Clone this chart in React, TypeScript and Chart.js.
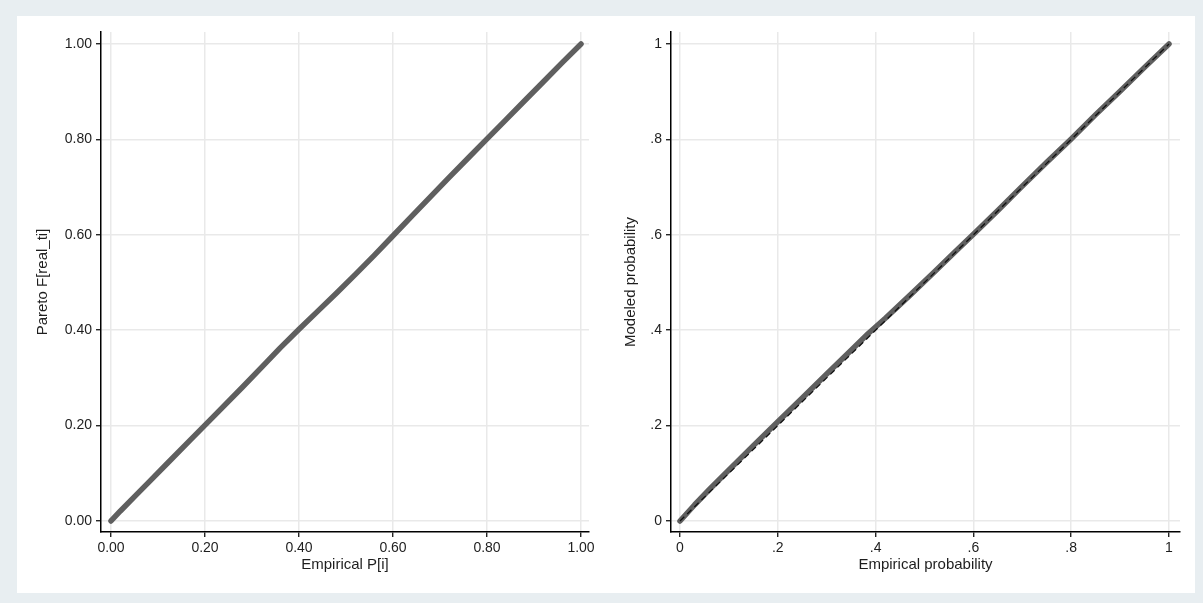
import React, { useEffect, useRef } from "react";
import { Chart, registerables } from "chart.js";

Chart.register(...registerables);

// ---- data ----
const leftEmpirical = [0, 0.02, 0.05, 0.08, 0.12, 0.17, 0.22, 0.28, 0.33, 0.36, 0.4, 0.44, 0.48, 0.52, 0.56, 0.6, 0.64, 0.68, 0.72, 0.76, 0.8, 0.84, 0.88, 0.92, 0.96, 1.0];
const leftPareto = [0, 0.021, 0.051, 0.081, 0.121, 0.171, 0.221, 0.281, 0.332, 0.363, 0.402, 0.44, 0.478, 0.517, 0.557, 0.598, 0.639, 0.68, 0.721, 0.761, 0.801, 0.841, 0.881, 0.921, 0.961, 1.0];

const rightEmpirical = [0, 0.03, 0.06, 0.1, 0.15, 0.2, 0.25, 0.3, 0.35, 0.385, 0.42, 0.47, 0.52, 0.56, 0.6, 0.65, 0.7, 0.75, 0.8, 0.85, 0.9, 0.95, 1.0];
const rightModeled = [0, 0.034, 0.066, 0.107, 0.158, 0.208, 0.258, 0.308, 0.358, 0.393, 0.425, 0.473, 0.522, 0.562, 0.601, 0.651, 0.702, 0.752, 0.801, 0.852, 0.901, 0.951, 1.0];
const refLine = [0, 1];

const tickValues = [0, 0.2, 0.4, 0.6, 0.8, 1.0];
const leftTickLabels = ["0.00", "0.20", "0.40", "0.60", "0.80", "1.00"];
const rightTickLabels = ["0", ".2", ".4", ".6", ".8", "1"];

const FONT = "'Liberation Sans', Arial, sans-serif";
const TEXT = "#1e1e1e";
const GRID = "#e9e9e9";

function axis(
  kind: "x" | "y",
  min: number,
  max: number,
  labels: string[],
  title: string,
  size: number,
  titlePad: any
) {
  return {
    type: "linear",
    min,
    max,
    afterBuildTicks: (s: any) => {
      s.ticks = tickValues.map((v) => ({ value: v }));
    },
    afterFit: (s: any) => {
      if (kind === "y") s.width = size;
      else s.height = size;
    },
    ticks: {
      color: TEXT,
      font: { family: FONT, size: 14 },
      padding: kind === "y" ? 4 : 3,
      maxRotation: 0,
      autoSkip: false,
      callback: (v: any) => {
        const i = tickValues.findIndex((t) => Math.abs(t - v) < 1e-9);
        return i >= 0 ? labels[i] : "";
      },
    },
    grid: {
      color: GRID,
      lineWidth: 1.5,
      tickColor: "#000",
      tickLength: 5,
      tickWidth: 1.2,
      drawTicks: true,
    },
    border: { display: true, color: "#000", width: 1.5 },
    title: {
      display: true,
      text: title,
      color: TEXT,
      font: { family: FONT, size: 15 },
      padding: titlePad,
    },
  };
}

function makePoints(xs: number[], ys: number[]) {
  return xs.map((x, i) => ({ x, y: ys[i] }));
}

function Panel(props: { which: "left" | "right" }) {
  const ref = useRef<HTMLCanvasElement | null>(null);
  useEffect(() => {
    if (!ref.current) return;
    const isLeft = props.which === "left";
    const datasets: any[] = [];
    if (!isLeft) {
      datasets.push({
        data: makePoints(refLine, refLine),
        borderColor: "#111",
        borderWidth: 1.3,
        borderDash: [6, 4],
        pointRadius: 0,
        order: 0,
      });
    }
    datasets.push({
      data: isLeft ? makePoints(leftEmpirical, leftPareto) : makePoints(rightEmpirical, rightModeled),
      borderColor: "#5f5f5f",
      borderWidth: 5.5,
      borderCapStyle: "round",
      borderJoinStyle: "round",
      pointRadius: 0,
      order: 1,
    });
    const chart = new Chart(ref.current, {
      type: "line",
      data: { datasets },
      options: {
        animation: false,
        responsive: false,
        devicePixelRatio: 1,
        layout: {
          padding: isLeft
            ? { left: 0, top: 32, right: 11, bottom: 0 }
            : { left: 0, top: 32, right: 23, bottom: 0 },
        },
        plugins: { legend: { display: false }, tooltip: { enabled: false } },
        scales: {
          x: isLeft
            ? axis("x", -0.0213, 1.017, leftTickLabels, "Empirical P[i]", 71, { top: 0, bottom: 29 })
            : axis("x", -0.0184, 1.0225, rightTickLabels, "Empirical probability", 71, { top: 0, bottom: 29 }),
          y: isLeft
            ? axis("y", -0.0231, 1.0252, leftTickLabels, "Pareto F[real_ti]", 101, { top: 34, bottom: 0 })
            : axis("y", -0.0231, 1.0252, rightTickLabels, "Modeled probability", 71, { top: 22, bottom: 0 }),
        } as any,
      } as any,
    });
    return () => chart.destroy();
  }, [props.which]);
  const w = props.which === "left" ? 600 : 603;
  return (
    <canvas
      ref={ref}
      width={w}
      height={603}
      style={{
        position: "absolute",
        left: props.which === "left" ? 0 : 600,
        top: 0,
        width: w,
        height: 603,
      }}
    />
  );
}

export default function App() {
  useEffect(() => {
    document.body.style.margin = "0";
  }, []);
  return (
    <div style={{ position: "relative", width: 1203, height: 603, background: "#e8eef1", overflow: "hidden" }}>
      <div style={{ position: "absolute", left: 17, top: 16, width: 1178, height: 577, background: "#ffffff" }} />
      <Panel which="left" />
      <Panel which="right" />
    </div>
  );
}
